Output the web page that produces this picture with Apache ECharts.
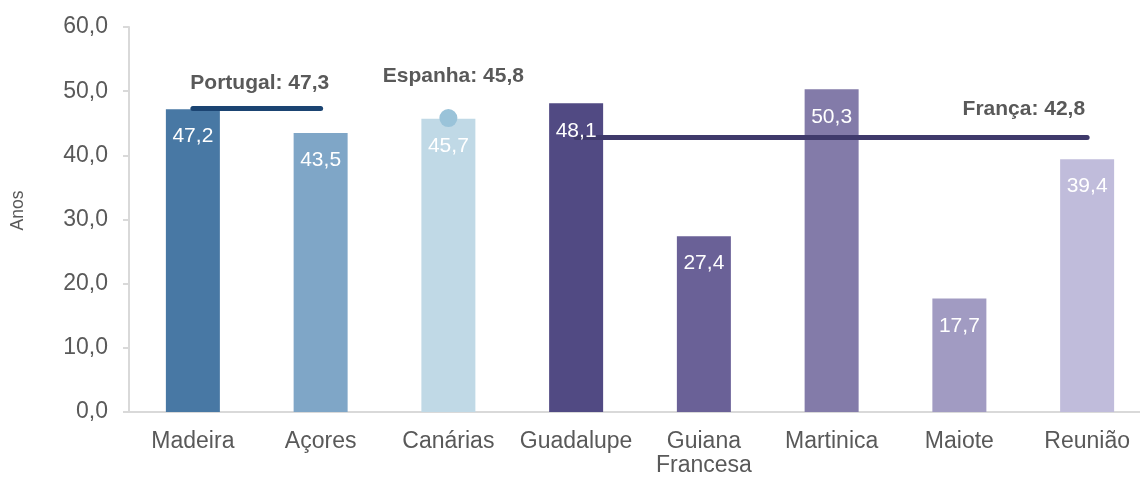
<!DOCTYPE html>
<html>
<head>
<meta charset="utf-8">
<script src="https://cdn.jsdelivr.net/npm/echarts@6/dist/echarts.min.js"></script>
<style>html,body{margin:0;padding:0;background:#fff;}#c{width:1140px;height:477px;}</style>
</head>
<body>
<div id="c"></div>
<script>
const categories = ['Madeira', 'Açores', 'Canárias', 'Guadalupe', 'Guiana\nFrancesa', 'Martinica', 'Maiote', 'Reunião'];
const values = [47.2, 43.5, 45.7, 48.1, 27.4, 50.3, 17.7, 39.4];
const barColors = ['#4878a4', '#7fa6c7', '#c0d9e6', '#514a83', '#6a6197', '#837ba9', '#a19bc2', '#c0bcdb'];
const yTicks = [0, 10, 20, 30, 40, 50, 60];
const refNames = ['Portugal', 'Espanha', 'França'];
const refValues = [47.3, 45.8, 42.8];
const refSpan = [[0, 1], [2, 2], [3, 7]];

const fmt = v => v.toFixed(1).replace('.', ',');
const textColor = '#595959';
const font = 'Liberation Sans, Arial, sans-serif';

const chart = echarts.init(document.getElementById('c'), null, {renderer: 'canvas'});
chart.setOption({
  animation: false,
  textStyle: {fontFamily: font},
  grid: {left: 129, top: 27, width: 1022, height: 385, containLabel: false, outerBoundsMode: 'none'},
  xAxis: {
    type: 'category',
    data: categories,
    axisLine: {lineStyle: {color: '#d9d9d9', width: 2}},
    axisTick: {show: false},
    axisLabel: {color: textColor, fontSize: 23, margin: 18, lineHeight: 24, fontFamily: font, interval: 0}
  },
  yAxis: {
    type: 'value',
    min: yTicks[0], max: yTicks[yTicks.length - 1], interval: 10,
    name: 'Anos',
    nameLocation: 'middle',
    nameRotate: 90,
    nameGap: 102,
    nameTextStyle: {color: textColor, fontSize: 17.5, fontFamily: font, padding: [0, 0, 0, 18]},
    axisLine: {show: true, lineStyle: {color: '#d9d9d9', width: 2}},
    axisTick: {show: true, length: 6, lineStyle: {color: '#d9d9d9', width: 2}},
    splitLine: {show: false},
    axisLabel: {color: textColor, fontSize: 23, margin: 21, fontFamily: font, formatter: fmt}
  },
  series: [{
    type: 'bar',
    barWidth: 54,
    z: 2,
    data: values.map((v, i) => ({value: v, itemStyle: {color: barColors[i]}})),
    label: {show: false},
    markLine: {
      silent: true,
      symbol: 'none',
      data: [
        [{coord: [refSpan[0][0], refValues[0]], lineStyle: {color: '#1b4472', width: 5, type: 'solid', cap: 'round'},
          label: {show: true, position: 'middle', distance: 15, offset: [3, 0], formatter: refNames[0] + ': ' + fmt(refValues[0]), color: textColor, fontWeight: 'bold', fontSize: 21, fontFamily: font}},
         {coord: [refSpan[0][1], refValues[0]]}],
        [{coord: [refSpan[2][0], refValues[2]], lineStyle: {color: '#3f3a6b', width: 5, type: 'solid', cap: 'round'},
          label: {show: true, position: 'insideEndTop', distance: [2, 18], formatter: refNames[2] + ': ' + fmt(refValues[2]), color: textColor, fontWeight: 'bold', fontSize: 21, fontFamily: font}},
         {coord: [refSpan[2][1], refValues[2]]}]
      ]
    },
    markPoint: {
      silent: true,
      data: [{
        coord: [refSpan[1][0], refValues[1]],
        symbol: 'circle', symbolSize: 18,
        itemStyle: {color: '#9ac3d9'},
        label: {show: true, position: 'top', distance: 22, offset: [5, 0], formatter: refNames[1] + ': ' + fmt(refValues[1]), color: textColor, fontWeight: 'bold', fontSize: 21, fontFamily: font}
      }]
    }
  }, {
    type: 'bar',
    barWidth: 54,
    barGap: '-100%',
    z: 10,
    silent: true,
    data: values,
    itemStyle: {color: 'rgba(0,0,0,0)'},
    label: {
      show: true, position: 'insideTop', distance: 17,
      color: '#ffffff', fontSize: 21, fontFamily: font,
      formatter: p => fmt(p.value)
    }
  }]
});
</script>
</body>
</html>
